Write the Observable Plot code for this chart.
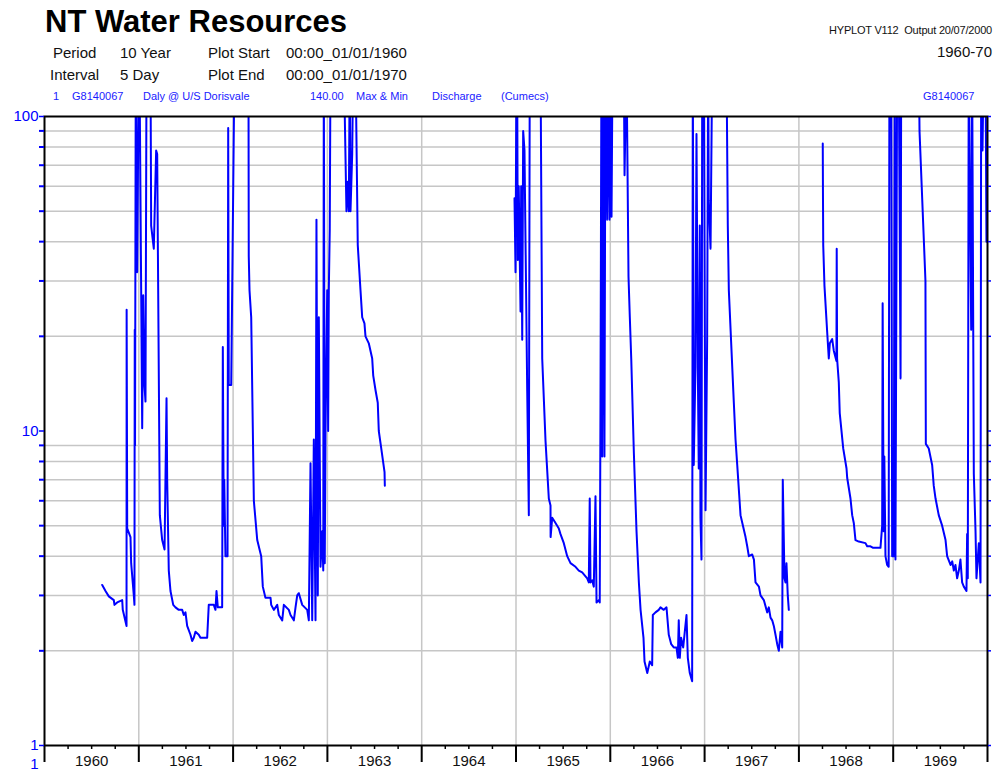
<!DOCTYPE html>
<html>
<head>
<meta charset="utf-8">
<script src="https://cdn.jsdelivr.net/npm/d3@7"></script>
<script src="https://cdn.jsdelivr.net/npm/@observablehq/plot@0.6"></script>
<style>
  body { margin: 0; background: #fff; font-family: "Liberation Sans", Arial, sans-serif; }
  #page { position: relative; width: 1005px; height: 776px; }
  #head { position: relative; width: 1005px; height: 100px; }
  .t { position: absolute; white-space: pre; line-height: 1; }
  .blue { color: #1a1aff; font-size: 11px; top: 90.7px; }
  .row { font-size: 15px; color: #111; }
</style>
</head>
<body>
<div id="page">
  <div id="head"></div>
  <div id="chart"></div>
</div>
<script>
// ---- header texts ----
const title = "NT Water Resources";
const software = "HYPLOT V112  Output 20/07/2000";
const periodLabel = "1960-70";
const headerRows = [
  ["Period", "10 Year", "Plot Start", "00:00_01/01/1960"],
  ["Interval", "5 Day", "Plot End", "00:00_01/01/1970"]
];
const seriesInfo = ["1", "G8140067", "Daly @ U/S Dorisvale", "140.00", "Max & Min", "Discharge", "(Cumecs)", "G8140067"];

// ---- data: [decimal year, discharge (cumecs)]; values > 100 run off the top ----
const run1960_63 = [
  [1960.612,3.24],[1960.647,3.1],[1960.682,2.98],[1960.735,2.9],[1960.742,2.8],[1960.771,2.85],[1960.824,2.9],[1960.830,2.7],
  [1960.870,2.4],[1960.871,24.3],[1960.877,4.9],[1960.912,4.6],[1960.919,3.8],[1960.947,3.0],[1960.954,2.8],[1960.957,21],
  [1960.960,9],[1960.968,150],[1960.983,32],[1961.000,150],[1961.007,150],[1961.036,10.2],[1961.047,27],[1961.060,14],
  [1961.071,12.4],[1961.082,150],[1961.124,150],[1961.131,45],[1961.159,38],[1961.184,78],[1961.195,76],[1961.223,5.4],
  [1961.248,4.5],[1961.273,4.2],[1961.294,12.7],[1961.301,7],[1961.318,3.6],[1961.336,3.1],[1961.365,2.8],[1961.389,2.75],
  [1961.424,2.7],[1961.460,2.7],[1961.477,2.6],[1961.495,2.65],[1961.513,2.4],[1961.548,2.25],[1961.566,2.15],[1961.583,2.2],
  [1961.601,2.3],[1961.636,2.25],[1961.654,2.2],[1961.689,2.2],[1961.725,2.2],[1961.742,2.8],[1961.795,2.8],[1961.813,2.7],
  [1961.824,3.1],[1961.838,2.75],[1961.884,2.75],[1961.891,18.5],[1961.901,5],[1961.906,7],[1961.919,4],[1961.941,4],
  [1961.948,92],[1961.954,14],[1961.980,14],[1962.015,150],[1962.163,150],[1962.166,36],[1962.174,28],[1962.192,23],
  [1962.220,6],[1962.256,4.5],[1962.298,4],[1962.315,3.2],[1962.343,2.95],[1962.397,2.95],[1962.404,2.8],[1962.432,2.7],
  [1962.468,2.8],[1962.485,2.6],[1962.521,2.5],[1962.538,2.8],[1962.591,2.7],[1962.609,2.6],[1962.644,2.5],[1962.662,2.75],
  [1962.680,3.0],[1962.697,3.05],[1962.733,2.8],[1962.786,2.7],[1962.803,2.5],[1962.821,7.9],[1962.839,2.5],[1962.856,9.4],
  [1962.874,2.5],[1962.884,47],[1962.898,3],[1962.909,23],[1962.927,3.7],[1962.945,4.8],[1962.956,3.6],[1962.962,150],
  [1962.972,3.8],[1962.980,10],[1962.998,28],[1963.008,10],[1963.015,28],[1963.025,44],[1963.033,150],[1963.174,150],
  [1963.202,50],[1963.216,62],[1963.227,50],[1963.237,150],[1963.245,50],[1963.263,76],[1963.274,150],[1963.298,150],
  [1963.322,39],[1963.351,28],[1963.369,23],[1963.393,22],[1963.404,20],[1963.439,19],[1963.475,17],[1963.486,15],
  [1963.510,13.5],[1963.534,12.3],[1963.545,10],[1963.571,8.8],[1963.606,7.4],[1963.609,6.7]
];
const run1965_67 = [
  [1964.984,55],[1964.995,32],[1965.005,150],[1965.012,150],[1965.019,35],[1965.029,60],[1965.048,24],[1965.055,60],
  [1965.066,19.5],[1965.076,90],[1965.090,78],[1965.119,13.4],[1965.136,5.4],[1965.146,150],[1965.260,150],[1965.278,17],
  [1965.313,9.3],[1965.348,6.1],[1965.366,5.8],[1965.367,4.6],[1965.384,5.3],[1965.419,5.1],[1965.454,4.9],[1965.472,4.7],
  [1965.507,4.4],[1965.543,4.0],[1965.578,3.8],[1965.631,3.7],[1965.666,3.6],[1965.702,3.55],[1965.755,3.4],[1965.772,3.3],
  [1965.782,6.1],[1965.790,3.3],[1965.808,3.35],[1965.825,3.2],[1965.843,6.2],[1965.854,2.85],[1965.878,2.9],[1965.888,2.85],
  [1965.896,12.3],[1965.906,150],[1965.914,8.3],[1965.925,150],[1965.938,8.3],[1965.949,150],[1965.967,47],[1965.981,150],
  [1965.992,47],[1966.003,150],[1966.013,48],[1966.024,150],[1966.143,150],[1966.151,65],[1966.172,150],[1966.193,31],
  [1966.207,23],[1966.222,17],[1966.250,8.5],[1966.278,4.8],[1966.303,3.3],[1966.321,2.7],[1966.352,2.2],[1966.363,1.85],
  [1966.392,1.7],[1966.419,1.85],[1966.444,1.8],[1966.451,2.6],[1966.479,2.65],[1966.514,2.7],[1966.532,2.75],[1966.567,2.7],
  [1966.596,2.75],[1966.620,2.25],[1966.646,2.1],[1966.673,2.05],[1966.702,2.05],[1966.716,1.9],[1966.726,2.5],[1966.737,1.9],
  [1966.751,2.2],[1966.773,2.05],[1966.808,2.6],[1966.822,1.9],[1966.843,1.7],[1966.868,1.6],[1966.875,150],[1966.885,7.8],
  [1966.903,16],[1966.914,88],[1966.928,16],[1966.938,7.6],[1966.949,45],[1966.956,5.3],[1966.967,3.9],[1966.975,150],
  [1966.992,150],[1967.010,5.6],[1967.027,19.4],[1967.038,150],[1967.044,54],[1967.063,38],[1967.081,150],[1967.232,150],
  [1967.246,45],[1967.257,28],[1967.310,12.3],[1967.328,9.4],[1967.346,7.8],[1967.381,5.4],[1967.434,4.6],[1967.452,4.3],
  [1967.469,4.0],[1967.505,4.05],[1967.523,3.9],[1967.540,3.3],[1967.576,3.2],[1967.593,3.0],[1967.628,2.9],[1967.664,2.65],
  [1967.681,2.75],[1967.699,2.55],[1967.717,2.5],[1967.734,2.4],[1967.752,2.25],[1967.770,2.1],[1967.787,2.0],[1967.805,2.3],
  [1967.823,2.05],[1967.829,7.0],[1967.847,3.4],[1967.858,3.3],[1967.868,3.8],[1967.882,3.0],[1967.893,2.7]
];
const run1968_69 = [
  [1968.253,82],[1968.255,58],[1968.258,39],[1968.271,29],[1968.300,20.6],[1968.317,17],[1968.328,19],[1968.353,19.6],
  [1968.370,18],[1968.398,16.7],[1968.401,38],[1968.405,17],[1968.423,14.3],[1968.433,11.4],[1968.470,8.8],[1968.505,7.6],
  [1968.512,7.1],[1968.547,6.1],[1968.565,5.4],[1968.582,5.1],[1968.600,4.5],[1968.635,4.45],[1968.706,4.4],[1968.724,4.3],
  [1968.759,4.3],[1968.788,4.25],[1968.865,4.25],[1968.883,5],[1968.888,25.5],[1968.899,4.8],[1968.906,8.3],[1968.918,4.0],
  [1968.936,3.75],[1968.952,3.7],[1968.960,150],[1968.979,150],[1968.989,4.0],[1969.006,4.0],[1969.017,150],[1969.024,3.9],
  [1969.042,150],[1969.059,150],[1969.078,14.7],[1969.085,150],[1969.272,150],[1969.279,90],[1969.342,30],[1969.346,9.1],
  [1969.377,8.8],[1969.413,7.8],[1969.430,6.7],[1969.449,6.1],[1969.483,5.4],[1969.519,5.0],[1969.555,4.5],[1969.572,4.0],
  [1969.608,3.75],[1969.626,3.85],[1969.643,3.6],[1969.660,3.75],[1969.678,3.4],[1969.696,3.6],[1969.713,3.9],[1969.731,3.3],
  [1969.749,3.2],[1969.777,3.1],[1969.784,4.7],[1969.791,3.4],[1969.801,150],[1969.820,36],[1969.827,21],[1969.837,150],
  [1969.855,7.3],[1969.873,4.8],[1969.883,3.4],[1969.908,4.4],[1969.926,3.3],[1969.933,150],[1969.947,78],[1969.960,150],
  [1969.979,150],[1969.989,40]
];

// ---- axis values ----
const yearBounds = [1960,1961,1962,1963,1964,1965,1966,1967,1968,1969,1970];
const yearLabels = ["1960","1961","1962","1963","1964","1965","1966","1967","1968","1969"];
const yMajor = [1, 10, 100];
const yMinor = [2,3,4,5,6,7,8,9,20,30,40,50,60,70,80,90];

// ---- header ----
const head = document.getElementById("head");
function addText(txt, left, top, cls, extra) {
  const d = document.createElement("div");
  d.className = "t " + (cls || "");
  d.textContent = txt;
  d.style.left = left + "px";
  d.style.top = top + "px";
  if (extra) Object.assign(d.style, extra);
  head.appendChild(d);
  return d;
}
addText(title, 45, 5.8, "", {fontSize: "31px", fontWeight: "bold", color: "#000"});
const rowX = [[53, 120, 208, 286], [50, 120, 208, 286]];
const rowTop = [44.8, 67.3];
headerRows.forEach((r, i) => r.forEach((s, j) => addText(s, rowX[i][j], rowTop[i], "row")));
addText(software, 0, 24.7, "", {fontSize: "11px", color: "#111", left: "auto", right: "13px", letterSpacing: "-0.2px"});
addText(periodLabel, 0, 44.3, "", {fontSize: "15px", color: "#111", left: "auto", right: "13px"});
const infoX = [53, 72, 143, 310, 356, 432, 501, 923];
seriesInfo.forEach((s, i) => addText(s, infoX[i], 90.7, "blue"));

// ---- chart ----
const flow = [
  ...run1960_63.map(([t, q]) => ({t, q, run: "a"})),
  ...run1965_67.map(([t, q]) => ({t, q, run: "b"})),
  ...run1968_69.map(([t, q]) => ({t, q, run: "c"}))
];
const quarterTicks = yearBounds.slice(0, -1).flatMap(y => [y + 0.25, y + 0.5, y + 0.75]);
const midYears = yearLabels.map(s => +s + 0.5);

const chart = Plot.plot({
  width: 1005,
  height: 676,
  marginLeft: 44,
  marginRight: 18,
  marginTop: 16,
  marginBottom: 31,
  style: {fontFamily: "'Liberation Sans', Arial, sans-serif", background: "#fff", overflow: "visible"},
  x: {domain: [1960, 1970], label: null},
  y: {type: "log", domain: [1, 100], label: null},
  marks: [
    Plot.ruleY(yMinor, {stroke: "#c6c6c6", strokeWidth: 1.5}),
    Plot.ruleX(yearBounds.slice(1, -1), {stroke: "#c6c6c6", strokeWidth: 1.5}),
    Plot.line(flow, {x: "t", y: "q", z: "run", stroke: "#0000ff", strokeWidth: 2, clip: true}),
    Plot.frame({stroke: "#000", strokeWidth: 2}),
    Plot.axisX(yearBounds, {label: null, tickSize: 17, tickFormat: () => "", stroke: "#000", strokeWidth: 2}),
    Plot.axisX(quarterTicks, {label: null, tickSize: 4, tickFormat: () => "", stroke: "#000", strokeWidth: 1.5}),
    Plot.axisX(midYears, {label: null, tickSize: 0, tickPadding: 10, tickFormat: d => String(Math.floor(d)), fontSize: 15, fill: "#111"}),
    Plot.axisY(yMajor, {label: null, tickSize: 5, tickPadding: 1, tickFormat: d => String(d), fontSize: 15, fill: "#0000ff", stroke: "#0000ff", strokeWidth: 1.5}),
    Plot.axisY(yMinor, {label: null, tickSize: 5, tickFormat: () => "", stroke: "#0000ff", strokeWidth: 2}),
    Plot.axisY(yMajor.concat(yMinor), {label: null, anchor: "right", tickSize: 3, tickFormat: () => "", stroke: "#0000ff", strokeWidth: 1.5}),
    Plot.text(["1"], {frameAnchor: "bottom-left", text: d => d, dx: -6, dy: 23, textAnchor: "end", fontSize: 15, fill: "#0000ff"})
  ]
});
document.getElementById("chart").appendChild(chart);
</script>
</body>
</html>
